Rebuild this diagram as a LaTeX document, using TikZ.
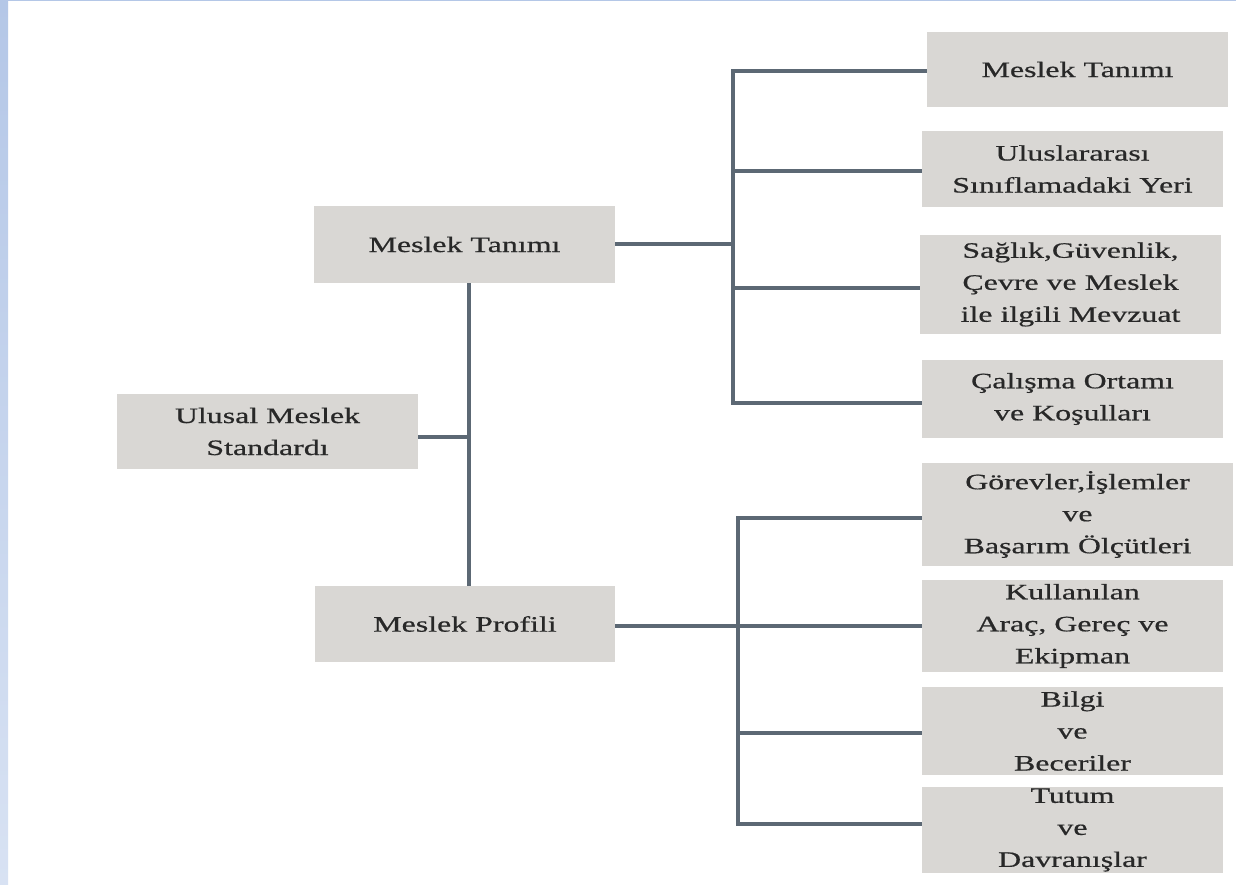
\documentclass[tikz,border=0pt]{standalone}
\usepackage{fontspec}
\newfontfamily\diagfont[FakeStretch=1.45,FakeBold=0.6]{Liberation Serif}
\definecolor{boxgray}{RGB}{217,215,212}
\definecolor{linec}{RGB}{92,104,116}
\definecolor{txtc}{RGB}{40,40,40}
\definecolor{stripA}{RGB}{180,199,231}
\definecolor{stripB}{RGB}{216,226,243}
\tikzset{
  bx/.style 2 args={fill=boxgray, draw=none, minimum width=#1pt, minimum height=#2pt,
    inner sep=0pt, align=center, text=txtc, font={\diagfont\fontsize{22}{32}\selectfont}},
  conn/.style={draw=linec, line width=4pt, line join=miter}
}
\begin{document}
\begin{tikzpicture}[x=1pt,y=-1pt]
\useasboundingbox (0,0) rectangle (1236,885);
\fill[white] (0,0) rectangle (1236,885);
\shade[top color=stripA, bottom color=stripB] (0,0) rectangle (8,885);
\fill[stripA] (0,0) rectangle (1236,1.5);

% main boxes
\node[bx={301}{75}] (ulusal) at (267.5,431.5) {Ulusal Meslek\\Standardı};
\node[bx={301}{77}] (mt) at (464.5,244.5) {Meslek Tanımı};
\node[bx={300}{76}] (mp) at (465,624) {Meslek Profili};

% right boxes, upper group
\node[bx={301}{75}] (r1) at (1077.5,69.5) {Meslek Tanımı};
\node[bx={301}{76}] (r2) at (1072.5,169) {Uluslararası\\Sınıflamadaki Yeri};
\node[bx={301}{98}] (r3) at (1070.5,284.5) {Sağlık,Güvenlik,\\Çevre ve Meslek\\ile ilgili Mevzuat};
\node[bx={301}{78}] (r4) at (1072.5,399) {Çalışma Ortamı\\ve Koşulları};

% right boxes, lower group
\node[bx={311}{103}] (r5) at (1077.5,514.5) {Görevler,İşlemler\\ve\\Başarım Ölçütleri};
\node[bx={301}{92}] (r6) at (1072.5,626) {Kullanılan\\Araç, Gereç ve\\Ekipman};
\node[bx={301}{88}] (r7) at (1072.5,731) {Bilgi\\ve\\Beceriler};
\node[bx={301}{86}] (r8) at (1072.5,830) {Tutum\\ve\\Davranışlar};

% buses
\coordinate (vt) at (469,0);
\coordinate (b1) at (733,0);
\coordinate (b2) at (738,0);

% central trunk
\draw[conn] (vt |- mt.south) -- (vt |- mp.north);
\draw[conn] ([yshift=-5.5pt]ulusal.east) -- ([yshift=-5.5pt]ulusal.east -| vt);

% upper bus
\draw[conn] (mt.east) -- (mt.east -| b1);
\draw[conn] ([yshift=-1.5pt]r1.west) -- ([yshift=-1.5pt]b1 |- r1.west) -- ([yshift=-4pt]b1 |- r4.west) -- ([yshift=-4pt]r4.west);
\draw[conn] ([yshift=-2pt]b1 |- r2.west) -- ([yshift=-2pt]r2.west);
\draw[conn] ([yshift=-3.5pt]b1 |- r3.west) -- ([yshift=-3.5pt]r3.west);

% lower bus
\draw[conn] ([yshift=-2pt]mp.east) -- ([yshift=-2pt]mp.east -| b2);
\draw[conn] ([yshift=-3.5pt]r5.west) -- ([yshift=-3.5pt]b2 |- r5.west) -- ([yshift=6pt]b2 |- r8.west) -- ([yshift=6pt]r8.west);
\draw[conn] (b2 |- r6.west) -- (r6.west);
\draw[conn] ([yshift=-2pt]b2 |- r7.west) -- ([yshift=-2pt]r7.west);
\end{tikzpicture}
\end{document}
